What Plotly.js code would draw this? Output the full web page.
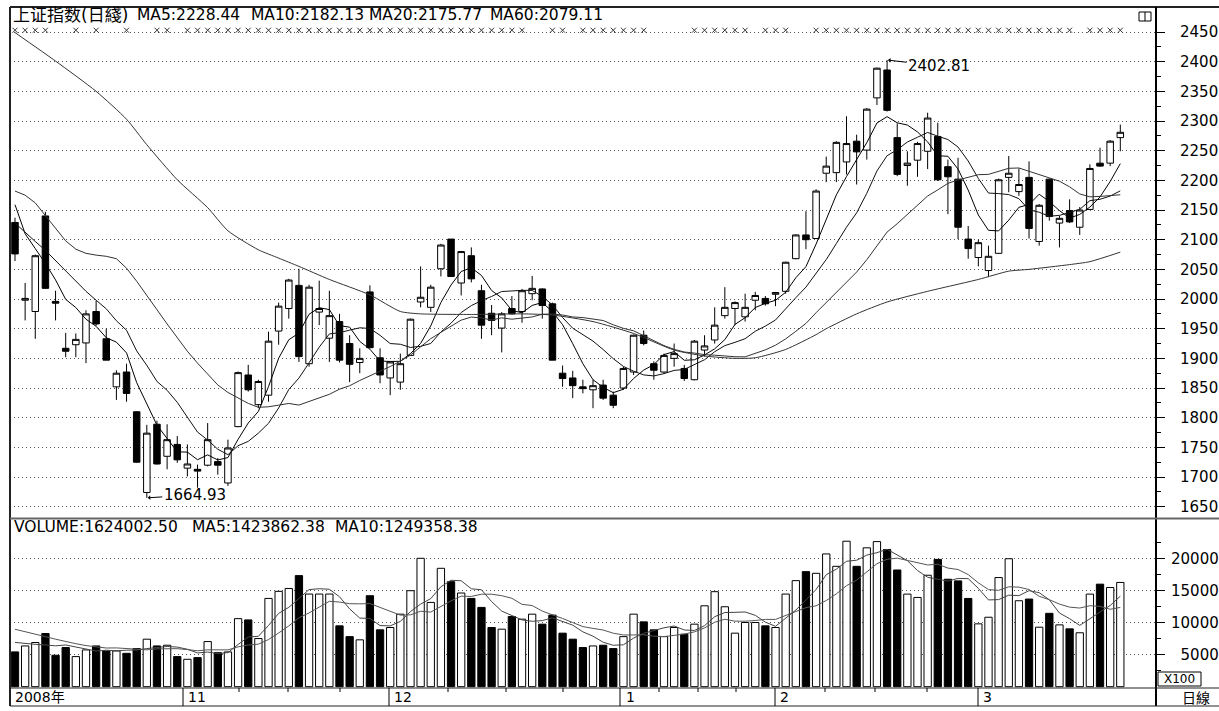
<!DOCTYPE html>
<html><head><meta charset="utf-8">
<script src="https://cdn.plot.ly/plotly-3.0.1.min.js"></script>
<style>html,body{margin:0;padding:0;background:#fff;}#chart{width:1219px;height:711px;}</style>
</head><body><div id="chart"></div>
<script>
// ---- Data (上证指数 daily, 2008-10-09 .. 2009-03-20) ----
const opens  = [2129,1998,1979,2140,1996,1917,1923,1926,1979,1933,1852,1877,1810,1674,1789,1735,1755,1715,1713,1720,
                1726,1690,1785,1872,1822,1838,1946,1984,2023,1891,1978,1934,1962,1925,1893,2012,1901,1867,1860,1905,
                1995,1986,2051,2101,2027,2073,2014,1976,1951,1984,1979,2009,2017,1992,1875,1867,1852,1847,1855,1838,
                1850,1877,1939,1891,1877,1900,1883,1864,1914,1931,1972,1984,1970,1998,2001,2008,2013,2068,2108,2102,
                2212,2213,2231,2266,2251,2339,2386,2272,2225,2234,2249,2274,2223,2202,2101,2070,2048,2077,2205,2181,
                2205,2097,2202,2128,2149,2121,2151,2229,2229,2272];
const highs  = [2137,2027,2075,2147,2014,1943,1942,1981,1997,1950,1880,1891,1811,1788,1795,1789,1769,1755,1721,1791,
                1732,1763,1878,1889,1864,1945,1994,2034,2051,2024,2031,2014,1975,1939,1917,2023,1917,1895,1908,1967,
                2055,2024,2093,2101,2081,2087,2024,1990,1978,2005,2017,2039,2018,1994,1888,1879,1864,1864,1864,1844,
                1886,1940,1947,1895,1908,1925,1889,1931,1939,1986,2020,1996,2009,2012,2005,2012,2063,2109,2148,2185,
                2240,2266,2308,2277,2322,2390,2402.81,2296,2249,2265,2314,2297,2235,2238,2123,2100,2090,2203,2241,2220,
                2232,2160,2203,2140,2168,2155,2227,2255,2268,2294];
const lows   = [2064,1964,1933,2017,1964,1902,1902,1892,1955,1897,1830,1827,1724,1664.93,1721,1713,1724,1701,1682,1718,
                1704,1685,1784,1844,1816,1827,1923,1967,1894,1886,1956,1894,1893,1860,1875,1917,1858,1838,1847,1905,
                1986,1978,2038,2037,2006,2028,1933,1939,1910,1974,1960,1998,1967,1897,1852,1833,1841,1816,1830,1816,
                1847,1872,1922,1864,1875,1886,1862,1863,1903,1925,1967,1956,1962,1981,1989,1988,2009,2067,2084,2101,
                2197,2197,2210,2193,2235,2327,2316,2207,2191,2206,2219,2199,2143,2101,2068,2055,2037,2076,2180,2174,
                2102,2090,2132,2087,2128,2108,2150,2223,2224,2249];
const closes = [2076,2001,2073,2018,1993,1912,1932,1975,1958,1897,1875,1841,1725,1774,1722,1763,1729,1722,1710,1763,
                1720,1749,1876,1847,1861,1929,1988,2032,1903,2020,1984,1972,1897,1890,1900,1918,1872,1894,1891,1966,
                2003,2020,2091,2038,2080,2034,1956,1964,1975,1975,2014,2018,1989,1897,1866,1854,1849,1854,1833,1821,
                1883,1939,1925,1880,1905,1908,1866,1929,1921,1956,1986,1994,1986,2006,1992,2011,2062,2108,2100,2182,
                2224,2264,2262,2248,2320,2389,2318,2210,2229,2262,2305,2201,2206,2121,2085,2095,2072,2201,2212,2193,
                2119,2158,2139,2136,2130,2150,2220,2224,2266,2281];
// volume in units of x100 (axis scale)
const volumes = [5420,6350,6880,8280,4900,6100,4690,5730,6350,5570,5570,5200,5940,7400,6350,6460,4690,4270,4530,7030,
                 5300,5420,10600,10400,7500,13750,14850,15300,17300,14430,14430,14430,9480,7800,7300,14170,8860,9220,11300,14950,
                 20000,13130,18440,16360,14590,13750,12350,9220,8960,10940,10520,11300,9740,11150,8340,7400,6100,6350,6460,5940,
                 7800,11300,10100,8860,7800,9220,8180,9740,12600,14800,12450,8340,10000,10000,9480,9220,14430,16520,17920,17660,
                 20680,18750,22660,18750,21630,22600,21370,18180,14420,13900,17360,19830,16740,16480,13750,9790,10820,17000,19930,13390,
                 13650,9270,11430,9630,9010,8400,14420,15970,15450,16240];
const ma5Lead  = [2159,2110,2085,2060];
const ma10Lead = [2128,2112,2097,2082,2065,2048,2030,2013,1998];
const ma20Lead = [2182,2175,2162,2140,2118,2098,2084,2077,2074,2072,2068,2052,2030,2005,1982,1958,1935,1912,1892];
const ma60Idx  = [0,4,8,11,13,16,19,21,24,26,28,31,35,38,40,45,50,53,57,61,65,68,71,73,76,79,80,83,86,90,95,98,100,104,106,109];
const ma60Val  = [2449,2401,2350,2303,2260,2201,2154,2115,2083,2069,2055,2033,2007,1979,1975,1974,1975,1973,1962,1942,1914,1904,1900,1901,1915,1940,1950,1975,1995,2013,2033,2047,2050,2058,2063,2079];
const vma5Lead  = [6900,6700,6600,6500];
const vma10Lead = [8950,8600,8200,7800,7400,7000,6700,6400,6200];
// signal row (x = mark, . = none)
const markFlags = "xxxx..x.x..x..xx.xxxxxxxxxxxxxxxxxxxxxxxxxxxxxxxxxx..xx.xxxxxxx....xxxxxx.xxx..xxxxxxxxxxxxxxxxxxxxxxxxxx.xxxx";
const priceTicks = [1650,1700,1750,1800,1850,1900,1950,2000,2050,2100,2150,2200,2250,2300,2350,2400,2450];
const volTicks = [5000,10000,15000,20000];
const volTickText = ["\u20075000","10000","15000","20000"];
const monthLabels = ["2008年","11","12","1","2","3"];
const titleParts = ["上证指数(日綫)","MA5:2228.44","MA10:2182.13","MA20:2175.77","MA60:2079.11"];
const volTitleParts = ["VOLUME:1624002.50","MA5:1423862.38","MA10:1249358.38"];

// ---- helpers ----
const idx = opens.map((_, i) => i);
function movAvg(arr, n, lead){
  return arr.map((_, i) => {
    if (i < n - 1) return lead[i];
    let s = 0; for (let k = i - n + 1; k <= i; k++) s += arr[k];
    return s / n;
  });
}
const PL = 10, PW = 1146, PT = 8, PH = 697;
const fx = px => (px - PL) / PW;
const fy = py => (PT + PH - py) / PH;

const FONT = "DejaVu Sans, Noto Sans CJK SC, sans-serif";

const traces = [];
traces.push({
  type: 'candlestick', x: idx, open: opens, high: highs, low: lows, close: closes,
  xaxis: 'x', yaxis: 'y', whiskerwidth: 0, hoverinfo: 'skip',
  increasing: {line: {color: '#000', width: 1}, fillcolor: '#fff'},
  decreasing: {line: {color: '#000', width: 1}, fillcolor: '#000'}
});
[[movAvg(closes,5,ma5Lead),'#000'],[movAvg(closes,10,ma10Lead),'#111'],[movAvg(closes,20,ma20Lead),'#333']].forEach(([m,c]) => {
  traces.push({type:'scatter', mode:'lines', x: idx, y: m, xaxis:'x', yaxis:'y', line:{color:c, width:1}, hoverinfo:'skip'});
});
traces.push({type:'scatter', mode:'lines', x: ma60Idx, y: ma60Val, xaxis:'x', yaxis:'y', line:{color:'#333', width:1, shape:'spline', smoothing:0.6}, hoverinfo:'skip'});
const markX = idx.filter(i => markFlags[i] === 'x');
traces.push({type:'scatter', mode:'markers', x: markX, y: markX.map(() => 2453), xaxis:'x', yaxis:'y',
  marker:{symbol:'x-thin', size:5, line:{width:1, color:'#333'}}, hoverinfo:'skip'});
traces.push({
  type:'bar', x: idx, y: volumes, xaxis:'x', yaxis:'y2', hoverinfo:'skip',
  marker:{color: idx.map(i => closes[i] >= opens[i] ? '#fff' : '#000'), line:{color:'#000', width:1}}
});
traces.push({type:'scatter', mode:'lines', x: idx, y: movAvg(volumes,5,vma5Lead), xaxis:'x', yaxis:'y2', line:{color:'#444', width:1}, hoverinfo:'skip'});
traces.push({type:'scatter', mode:'lines', x: idx, y: movAvg(volumes,10,vma10Lead), xaxis:'x', yaxis:'y2', line:{color:'#555', width:1}, hoverinfo:'skip'});

// ---- decorations ----
const shapes = [];
const L = (x0,y0,x1,y1,color,width) => shapes.push({type:'line', xref:'paper', yref:'paper', x0:fx(x0), y0:fy(y0), x1:fx(x1), y1:fy(y1), line:{color, width}});
L(10,7,1219,7,'#222',2);          // top border
L(10,7,10,706,'#222',2);          // left border
L(1156,7,1156,706,'#000',2);      // axis line
L(10,518.5,1219,518.5,'#666',2);  // price/volume separator
L(10,688,1219,688,'#222',1);      // volume/date separator
L(10,706,1219,706,'#222',1);      // bottom border
[183,389,620,775,978].forEach(px => L(px,688,px,706,'#000',1)); // month dividers
[239,288,340,448,506,563,659,698,736,825,875,927].forEach(px => L(px,688,px,692,'#000',1)); // week ticks
shapes.push({type:'rect', xref:'paper', yref:'paper', x0:fx(1139), x1:fx(1151), y0:fy(21), y1:fy(12), line:{color:'#000', width:1}});
L(1145,12,1145,21,'#000',1);
shapes.push({type:'rect', xref:'paper', yref:'paper', x0:fx(1158), x1:fx(1201), y0:fy(686), y1:fy(672), line:{color:'#000', width:1}});

const annotations = [];
const T = (text, px, py, size, anchor) => annotations.push({text, xref:'paper', yref:'paper', x:fx(px), y:fy(py),
  xanchor: anchor || 'left', yanchor:'middle', showarrow:false, font:{family:FONT, size, color:'#000'}});
T(titleParts[0], 11, 15, 17);
[135,249,367,488].forEach((px,k) => T(titleParts[k+1], px, 15, 15.5));
[12,190,333].forEach((px,k) => T(volTitleParts[k], px, 527, 15.5));
[13,186,392,624,778,981].forEach((px,k) => T(monthLabels[k], px, 697, 14));
T("X100", 1179.5, 679, 12, 'center');
T("日線", 1196, 698, 14, 'center');
annotations.push({x:13, y:1664.93, xref:'x', yref:'y', text:'1664.93', showarrow:true, arrowhead:1, arrowsize:0.8, arrowwidth:1, arrowcolor:'#000',
  ax:48, ay:-3, standoff:1, font:{family:FONT, size:15, color:'#000'}});
annotations.push({x:86, y:2402.81, xref:'x', yref:'y', text:'2402.81', showarrow:true, arrowhead:1, arrowsize:0.8, arrowwidth:1, arrowcolor:'#000',
  ax:52, ay:6, standoff:1, font:{family:FONT, size:15, color:'#000'}});

const layout = {
  width: 1219, height: 711, margin: {l: PL, r: 1219 - PL - PW, t: PT, b: 711 - PT - PH},
  paper_bgcolor: '#fff', plot_bgcolor: '#fff', showlegend: false,
  bargap: 0.28, boxgap: 0.2, boxgroupgap: 0.2,
  xaxis: {range: [-0.493, 112.52], showgrid:false, zeroline:false, showticklabels:false, ticks:'', showline:false,
          rangeslider:{visible:false}, fixedrange:true},
  yaxis: {domain:[0.26973, 0.98278], range:[1632.68, 2470.22], side:'right', tickmode:'array', tickvals: priceTicks,
          ticktext: priceTicks.map(String), showgrid:true, gridcolor:'#555', gridwidth:1, griddash:'1px,3px',
          zeroline:false, showline:false, ticks:'outside', ticklen:8, tickcolor:'#000', tickwidth:1, ticklabelstandoff:12,
          minor:{tickvals:priceTicks.map(v => v + 25), ticks:'outside', ticklen:4, tickcolor:'#000', showgrid:false},
          tickfont:{family:FONT, size:15, color:'#000'}, fixedrange:true},
  yaxis2: {domain:[0.02439, 0.26686], range:[-202, 26121], side:'right', tickmode:'array', tickvals: volTicks,
          ticktext: volTickText, showgrid:true, gridcolor:'#555', gridwidth:1, griddash:'1px,3px',
          zeroline:false, showline:false, ticks:'outside', ticklen:8, tickcolor:'#000', tickwidth:1, ticklabelstandoff:3,
          minor:{tickvals:[2500,7500,12500,17500,22500], ticks:'outside', ticklen:4, tickcolor:'#000', showgrid:false},
          tickfont:{family:FONT, size:15, color:'#000'}, fixedrange:true},
  shapes, annotations
};
Plotly.newPlot('chart', traces, layout, {staticPlot:true, displayModeBar:false});
</script></body></html>
